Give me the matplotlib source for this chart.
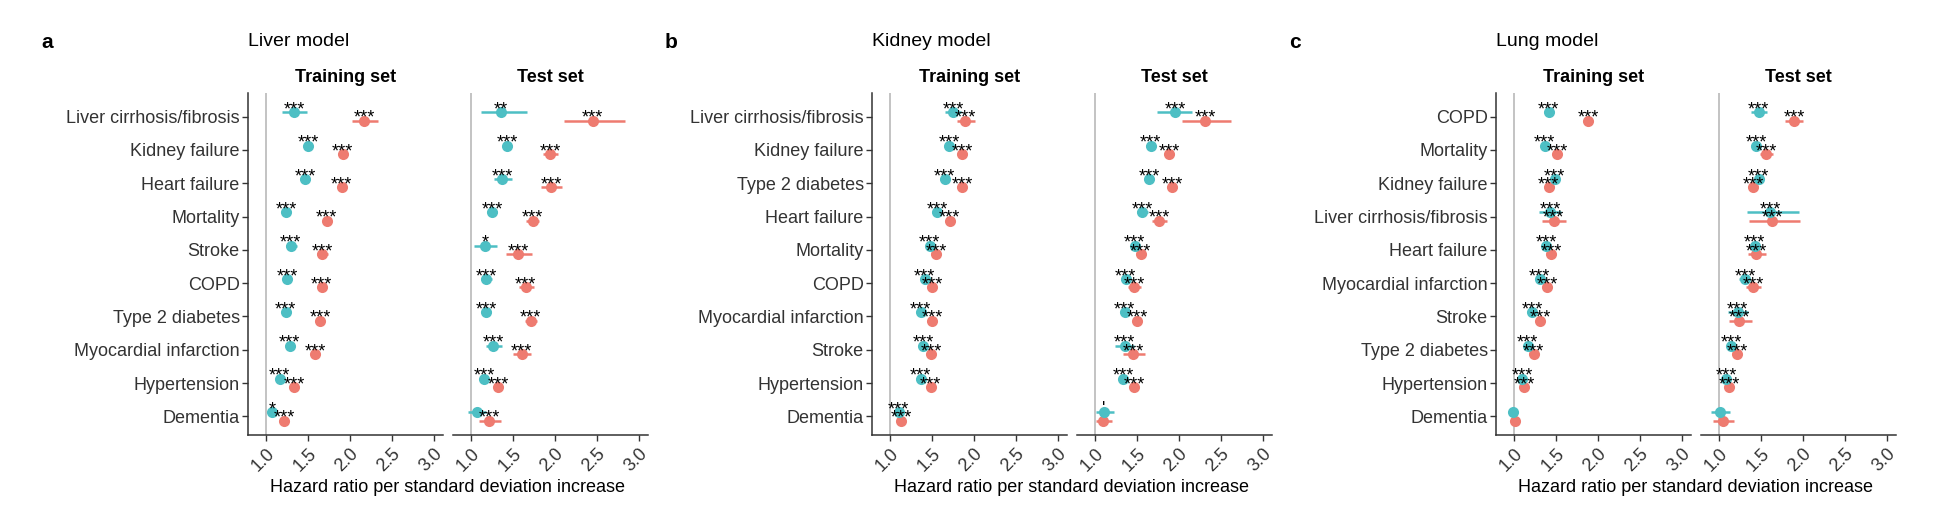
import numpy as np
import matplotlib
matplotlib.use("Agg")
import matplotlib.pyplot as plt

plt.rcParams['font.family'] = ['Liberation Sans', 'DejaVu Sans']

# ---- data: hazard ratios (estimate, lower, upper) and significance labels ----
# Liver model
liver_outcomes = ["Liver cirrhosis/fibrosis", "Kidney failure", "Heart failure", "Mortality", "Stroke",
                  "COPD", "Type 2 diabetes", "Myocardial infarction", "Hypertension", "Dementia"]
liver_train_cy = [1.33, 1.50, 1.46, 1.24, 1.29, 1.25, 1.23, 1.28, 1.16, 1.07]
liver_train_cy_lo = [1.19, 1.46, 1.42, 1.22, 1.23, 1.22, 1.20, 1.24, 1.14, 1.03]
liver_train_cy_hi = [1.48, 1.54, 1.50, 1.26, 1.36, 1.28, 1.26, 1.32, 1.18, 1.12]
liver_train_cy_lab = ["***"] * 9 + ["*"]
liver_train_rd = [2.17, 1.91, 1.90, 1.72, 1.67, 1.66, 1.64, 1.58, 1.33, 1.21]
liver_train_rd_lo = [2.02, 1.87, 1.85, 1.69, 1.61, 1.62, 1.60, 1.54, 1.30, 1.17]
liver_train_rd_hi = [2.33, 1.95, 1.95, 1.75, 1.74, 1.70, 1.68, 1.62, 1.36, 1.25]
liver_train_rd_lab = ["***"] * 10
liver_test_cy = [1.35, 1.43, 1.37, 1.25, 1.16, 1.18, 1.18, 1.26, 1.15, 1.07]
liver_test_cy_lo = [1.11, 1.38, 1.27, 1.21, 1.03, 1.12, 1.14, 1.18, 1.11, 0.96]
liver_test_cy_hi = [1.67, 1.48, 1.48, 1.30, 1.31, 1.25, 1.23, 1.36, 1.19, 1.18]
liver_test_cy_lab = ["**", "***", "***", "***", "*", "***", "***", "***", "***", ""]
liver_test_rd = [2.45, 1.94, 1.95, 1.73, 1.56, 1.65, 1.71, 1.60, 1.32, 1.21]
liver_test_rd_lo = [2.11, 1.86, 1.83, 1.65, 1.41, 1.57, 1.64, 1.50, 1.27, 1.09]
liver_test_rd_hi = [2.83, 2.04, 2.08, 1.81, 1.72, 1.75, 1.78, 1.71, 1.37, 1.35]
liver_test_rd_lab = ["***"] * 10

# Kidney model
kidney_outcomes = ["Liver cirrhosis/fibrosis", "Kidney failure", "Type 2 diabetes", "Heart failure", "Mortality",
                   "COPD", "Myocardial infarction", "Stroke", "Hypertension", "Dementia"]
kidney_train_cy = [1.75, 1.70, 1.65, 1.56, 1.47, 1.41, 1.36, 1.39, 1.36, 1.10]
kidney_train_cy_lo = [1.65, 1.67, 1.62, 1.53, 1.45, 1.38, 1.33, 1.35, 1.34, 1.06]
kidney_train_cy_hi = [1.84, 1.73, 1.68, 1.59, 1.49, 1.44, 1.39, 1.43, 1.38, 1.14]
kidney_train_cy_lab = ["***"] * 10
kidney_train_rd = [1.89, 1.86, 1.86, 1.71, 1.55, 1.50, 1.50, 1.49, 1.48, 1.13]
kidney_train_rd_lo = [1.79, 1.82, 1.83, 1.68, 1.53, 1.47, 1.47, 1.46, 1.46, 1.10]
kidney_train_rd_hi = [2.01, 1.90, 1.89, 1.74, 1.57, 1.53, 1.53, 1.52, 1.50, 1.16]
kidney_train_rd_lab = ["***"] * 10
kidney_test_cy = [1.95, 1.66, 1.64, 1.56, 1.47, 1.36, 1.35, 1.35, 1.33, 1.10]
kidney_test_cy_lo = [1.74, 1.61, 1.59, 1.50, 1.43, 1.31, 1.30, 1.24, 1.29, 1.01]
kidney_test_cy_hi = [2.16, 1.71, 1.69, 1.63, 1.51, 1.41, 1.40, 1.46, 1.37, 1.22]
kidney_test_cy_lab = ["***"] * 9 + ["'"]
kidney_test_rd = [2.31, 1.88, 1.92, 1.76, 1.54, 1.46, 1.50, 1.45, 1.46, 1.09]
kidney_test_rd_lo = [2.04, 1.83, 1.87, 1.68, 1.50, 1.39, 1.45, 1.33, 1.42, 1.01]
kidney_test_rd_hi = [2.62, 1.93, 1.97, 1.86, 1.58, 1.54, 1.55, 1.59, 1.50, 1.20]
kidney_test_rd_lab = ["***"] * 9 + [""]

# Lung model
lung_outcomes = ["COPD", "Mortality", "Kidney failure", "Liver cirrhosis/fibrosis", "Heart failure",
                 "Myocardial infarction", "Stroke", "Type 2 diabetes", "Hypertension", "Dementia"]
lung_train_cy = [1.41, 1.36, 1.48, 1.43, 1.38, 1.30, 1.21, 1.16, 1.09, 0.98]
lung_train_cy_lo = [1.38, 1.34, 1.45, 1.29, 1.35, 1.27, 1.18, 1.13, 1.07, 0.94]
lung_train_cy_hi = [1.44, 1.38, 1.51, 1.56, 1.41, 1.33, 1.24, 1.19, 1.11, 1.02]
lung_train_cy_lab = ["***"] * 9 + [""]
lung_train_rd = [1.88, 1.51, 1.41, 1.47, 1.44, 1.39, 1.31, 1.23, 1.12, 1.01]
lung_train_rd_lo = [1.85, 1.48, 1.38, 1.33, 1.41, 1.36, 1.28, 1.20, 1.10, 0.97]
lung_train_rd_hi = [1.91, 1.54, 1.44, 1.62, 1.47, 1.42, 1.34, 1.26, 1.14, 1.05]
lung_train_rd_lab = ["***"] * 9 + [""]
lung_test_cy = [1.47, 1.44, 1.47, 1.61, 1.42, 1.31, 1.22, 1.14, 1.08, 1.01]
lung_test_cy_lo = [1.38, 1.39, 1.42, 1.33, 1.37, 1.24, 1.10, 1.10, 1.04, 0.90]
lung_test_cy_hi = [1.57, 1.49, 1.52, 1.95, 1.47, 1.37, 1.34, 1.18, 1.12, 1.13]
lung_test_cy_lab = ["***"] * 9 + [""]
lung_test_rd = [1.89, 1.56, 1.40, 1.63, 1.44, 1.40, 1.24, 1.21, 1.12, 1.04]
lung_test_rd_lo = [1.78, 1.49, 1.36, 1.35, 1.34, 1.32, 1.11, 1.17, 1.08, 0.92]
lung_test_rd_hi = [2.00, 1.64, 1.44, 1.96, 1.56, 1.50, 1.39, 1.25, 1.16, 1.17]
lung_test_rd_lab = ["***"] * 9 + [""]

x_ticks = [1.0, 1.5, 2.0, 2.5, 3.0]
x_tick_labels = ["1.0", "1.5", "2.0", "2.5", "3.0"]

CYAN = "#4DBFC4"
RED = "#EE7B70"
TXT = "#333333"

W, H = 1952, 522
fig = plt.figure(figsize=(W / 100, H / 100), dpi=100)


def rect(x0, x1, y0, y1):
    # pixel box (from top-left) -> figure fraction
    return [x0 / W, 1 - y1 / H, (x1 - x0) / W, (y1 - y0) / H]


def draw_set(ax, outcomes, cy, cy_lo, cy_hi, cy_lab, rd, rd_lo, rd_hi, rd_lab, show_y):
    n = len(outcomes)
    ypos = np.arange(n)[::-1].astype(float)
    ax.axvline(1.0, color="#BEBEBE", lw=1.3, zorder=0)
    groups = [(rd, rd_lo, rd_hi, rd_lab, RED, -0.125),
              (cy, cy_lo, cy_hi, cy_lab, CYAN, 0.125)]
    for vals, lo, hi, labs, col, dy in groups:
        y = ypos + dy
        ax.hlines(y, lo, hi, color=col, lw=1.8, zorder=2)
        ax.plot(vals, y, "o", color=col, ms=8, mec="none", zorder=3)
    for vals, lo, hi, labs, col, dy in groups:
        for v, yy, lab in zip(vals, ypos + dy, labs):
            if lab:
                ax.annotate(lab, (v, yy), xytext=(0, -1.5), textcoords="offset points",
                            ha="center", va="baseline", fontsize=13, color="black", zorder=4)
    ax.set_xlim(0.78, 3.11)
    ax.set_ylim(-0.56, n - 1 + 0.71)
    ax.set_xticks(x_ticks)
    ax.set_xticklabels(x_tick_labels, rotation=45, ha="right", rotation_mode="anchor")
    ax.tick_params(axis="x", length=4, width=1, color=TXT, labelsize=13, labelcolor=TXT, pad=3)
    ax.spines["top"].set_visible(False)
    ax.spines["right"].set_visible(False)
    ax.spines["bottom"].set_linewidth(1.1)
    ax.spines["bottom"].set_color(TXT)
    if show_y:
        ax.set_yticks(ypos)
        ax.set_yticklabels(outcomes)
        ax.tick_params(axis="y", length=4, width=1, color=TXT, labelsize=13, labelcolor=TXT, pad=2)
        ax.spines["left"].set_linewidth(1.1)
        ax.spines["left"].set_color(TXT)
    else:
        ax.set_yticks([])
        ax.spines["left"].set_visible(False)


panels = [
    ("a", "Liver model", liver_outcomes,
     (liver_train_cy, liver_train_cy_lo, liver_train_cy_hi, liver_train_cy_lab,
      liver_train_rd, liver_train_rd_lo, liver_train_rd_hi, liver_train_rd_lab),
     (liver_test_cy, liver_test_cy_lo, liver_test_cy_hi, liver_test_cy_lab,
      liver_test_rd, liver_test_rd_lo, liver_test_rd_hi, liver_test_rd_lab)),
    ("b", "Kidney model", kidney_outcomes,
     (kidney_train_cy, kidney_train_cy_lo, kidney_train_cy_hi, kidney_train_cy_lab,
      kidney_train_rd, kidney_train_rd_lo, kidney_train_rd_hi, kidney_train_rd_lab),
     (kidney_test_cy, kidney_test_cy_lo, kidney_test_cy_hi, kidney_test_cy_lab,
      kidney_test_rd, kidney_test_rd_lo, kidney_test_rd_hi, kidney_test_rd_lab)),
    ("c", "Lung model", lung_outcomes,
     (lung_train_cy, lung_train_cy_lo, lung_train_cy_hi, lung_train_cy_lab,
      lung_train_rd, lung_train_rd_lo, lung_train_rd_hi, lung_train_rd_lab),
     (lung_test_cy, lung_test_cy_lo, lung_test_cy_hi, lung_test_cy_lab,
      lung_test_rd, lung_test_rd_lo, lung_test_rd_hi, lung_test_rd_lab)),
]

top, bottom = 93, 435
for i, (letter, title, outcomes, train, test) in enumerate(panels):
    off = 624 * i
    tr_x0, tr_x1 = 248 + off, 443 + off
    te_x0, te_x1 = 453 + off, 648 + off
    ax_tr = fig.add_axes(rect(tr_x0, tr_x1, top, bottom))
    ax_te = fig.add_axes(rect(te_x0, te_x1, top, bottom))
    draw_set(ax_tr, outcomes, *train, show_y=True)
    draw_set(ax_te, outcomes, *test, show_y=False)

    fig.text((41 + off) / W, 1 - 42 / H, letter, fontsize=15, fontweight="bold", ha="left", va="center")
    fig.text(tr_x0 / W, 1 - 42 / H, title, fontsize=14, ha="left", va="center")
    fig.text((tr_x0 + tr_x1) / 2 / W, 1 - 77 / H, "Training set", fontsize=13, fontweight="bold",
             ha="center", va="center")
    fig.text((te_x0 + te_x1) / 2 / W, 1 - 77 / H, "Test set", fontsize=13, fontweight="bold",
             ha="center", va="center")
    fig.text((tr_x0 + te_x1) / 2 / W, 1 - 487 / H, "Hazard ratio per standard deviation increase",
             fontsize=13, ha="center", va="center")

fig.savefig("out.png", dpi=100)
